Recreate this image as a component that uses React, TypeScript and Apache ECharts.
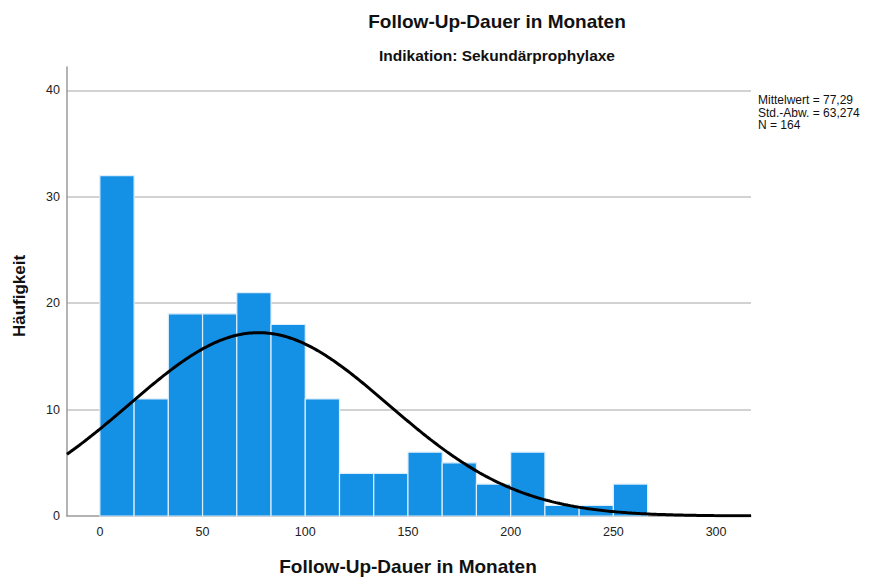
import React, { useEffect, useRef } from "react";
import * as echarts from "echarts";

const binCounts = [32, 11, 19, 19, 21, 18, 11, 4, 4, 6, 5, 3, 6, 1, 1, 3];
const binStart = 0;
const binWidth = 50 / 3;
const meanValue = 77.29;
const sdValue = 63.274;
const nValue = 164;
const xTicks = [0, 50, 100, 150, 200, 250, 300];
const yTicks = [0, 10, 20, 30, 40];
const statsLines = ["Mittelwert = 77,29", "Std.-Abw. = 63,274", "N = 164"];
const xMin = -16;
const xMax = 317;
const yMax = 42.2;

const FONT = "'Liberation Sans', Arial, sans-serif";

export default function App() {
  const ref = useRef<HTMLDivElement>(null);
  useEffect(() => {
    if (!ref.current) return;
    const chart = echarts.init(ref.current, null, { renderer: "svg" });
    const barData = binCounts.map((c, i) => [binStart + i * binWidth, binStart + (i + 1) * binWidth, c]);
    const curve: number[][] = [];
    for (let x = xMin; x <= xMax; x += 1) {
      const z = (x - meanValue) / sdValue;
      const y = (nValue * binWidth) / (sdValue * Math.sqrt(2 * Math.PI)) * Math.exp(-0.5 * z * z);
      curve.push([x, y]);
    }
    chart.setOption({
      animation: false,
      textStyle: { fontFamily: FONT },
      grid: { left: 67, top: 67, width: 684, height: 449, containLabel: false },
      xAxis: {
        type: "value",
        min: xMin,
        max: xMax,
        axisLine: { show: true, onZero: false, lineStyle: { color: "#9a9a9a", width: 1.5 } },
        axisTick: { show: false },
        splitLine: { show: false },
        axisLabel: { customValues: xTicks, color: "#222", fontSize: 12.5, margin: 9, fontFamily: FONT },
      },
      yAxis: {
        type: "value",
        min: 0,
        max: yMax,
        interval: 10,
        axisLine: { show: true, onZero: false, lineStyle: { color: "#9a9a9a", width: 1.5 } },
        axisTick: { show: false },
        splitLine: { show: true, showMaxLine: false, showMinLine: false, lineStyle: { color: "#d2d2d2", width: 2 } },
        axisLabel: { customValues: yTicks, color: "#222", fontSize: 12.5, margin: 7, fontFamily: FONT },
      },
      series: [
        {
          type: "custom",
          data: barData,
          z: 2,
          encode: { x: [0, 1], y: 2 },
          renderItem: (params: any, api: any) => {
            const p0 = api.coord([api.value(0), 0]);
            const p1 = api.coord([api.value(1), api.value(2)]);
            return {
              type: "rect",
              shape: { x: p0[0], y: p1[1], width: p1[0] - p0[0], height: p0[1] - p1[1] },
              style: { fill: "#1490e5", stroke: "#dceefc", lineWidth: 1.2 },
            };
          },
        },
        {
          type: "line",
          data: curve,
          showSymbol: false,
          symbol: "none",
          z: 5,
          lineStyle: { color: "#000", width: 3 },
        },
      ],
      graphic: [
        {
          type: "text",
          x: 497,
          y: 21,
          style: { text: "Follow-Up-Dauer in Monaten", font: `bold 19px ${FONT}`, fill: "#111", textAlign: "center", textVerticalAlign: "middle" },
        },
        {
          type: "text",
          x: 497,
          y: 55,
          style: { text: "Indikation: Sekundärprophylaxe", font: `bold 15.5px ${FONT}`, fill: "#111", textAlign: "center", textVerticalAlign: "middle" },
        },
        {
          type: "text",
          x: 408,
          y: 566,
          style: { text: "Follow-Up-Dauer in Monaten", font: `bold 19px ${FONT}`, fill: "#111", textAlign: "center", textVerticalAlign: "middle" },
        },
        {
          type: "text",
          x: 19,
          y: 296,
          rotation: Math.PI / 2,
          style: { text: "Häufigkeit", font: `bold 17px ${FONT}`, fill: "#111", textAlign: "center", textVerticalAlign: "middle" },
        },
        ...statsLines.map((t, i) => ({
          type: "text",
          x: 758,
          y: 100 + i * 12.5,
          style: { text: t, font: `12px ${FONT}`, fill: "#111", textAlign: "left", textVerticalAlign: "middle" },
        })),
      ],
    });
    return () => chart.dispose();
  }, []);
  return <div ref={ref} style={{ width: 875, height: 579, position: "absolute", left: 0, top: 0 }} />;
}
